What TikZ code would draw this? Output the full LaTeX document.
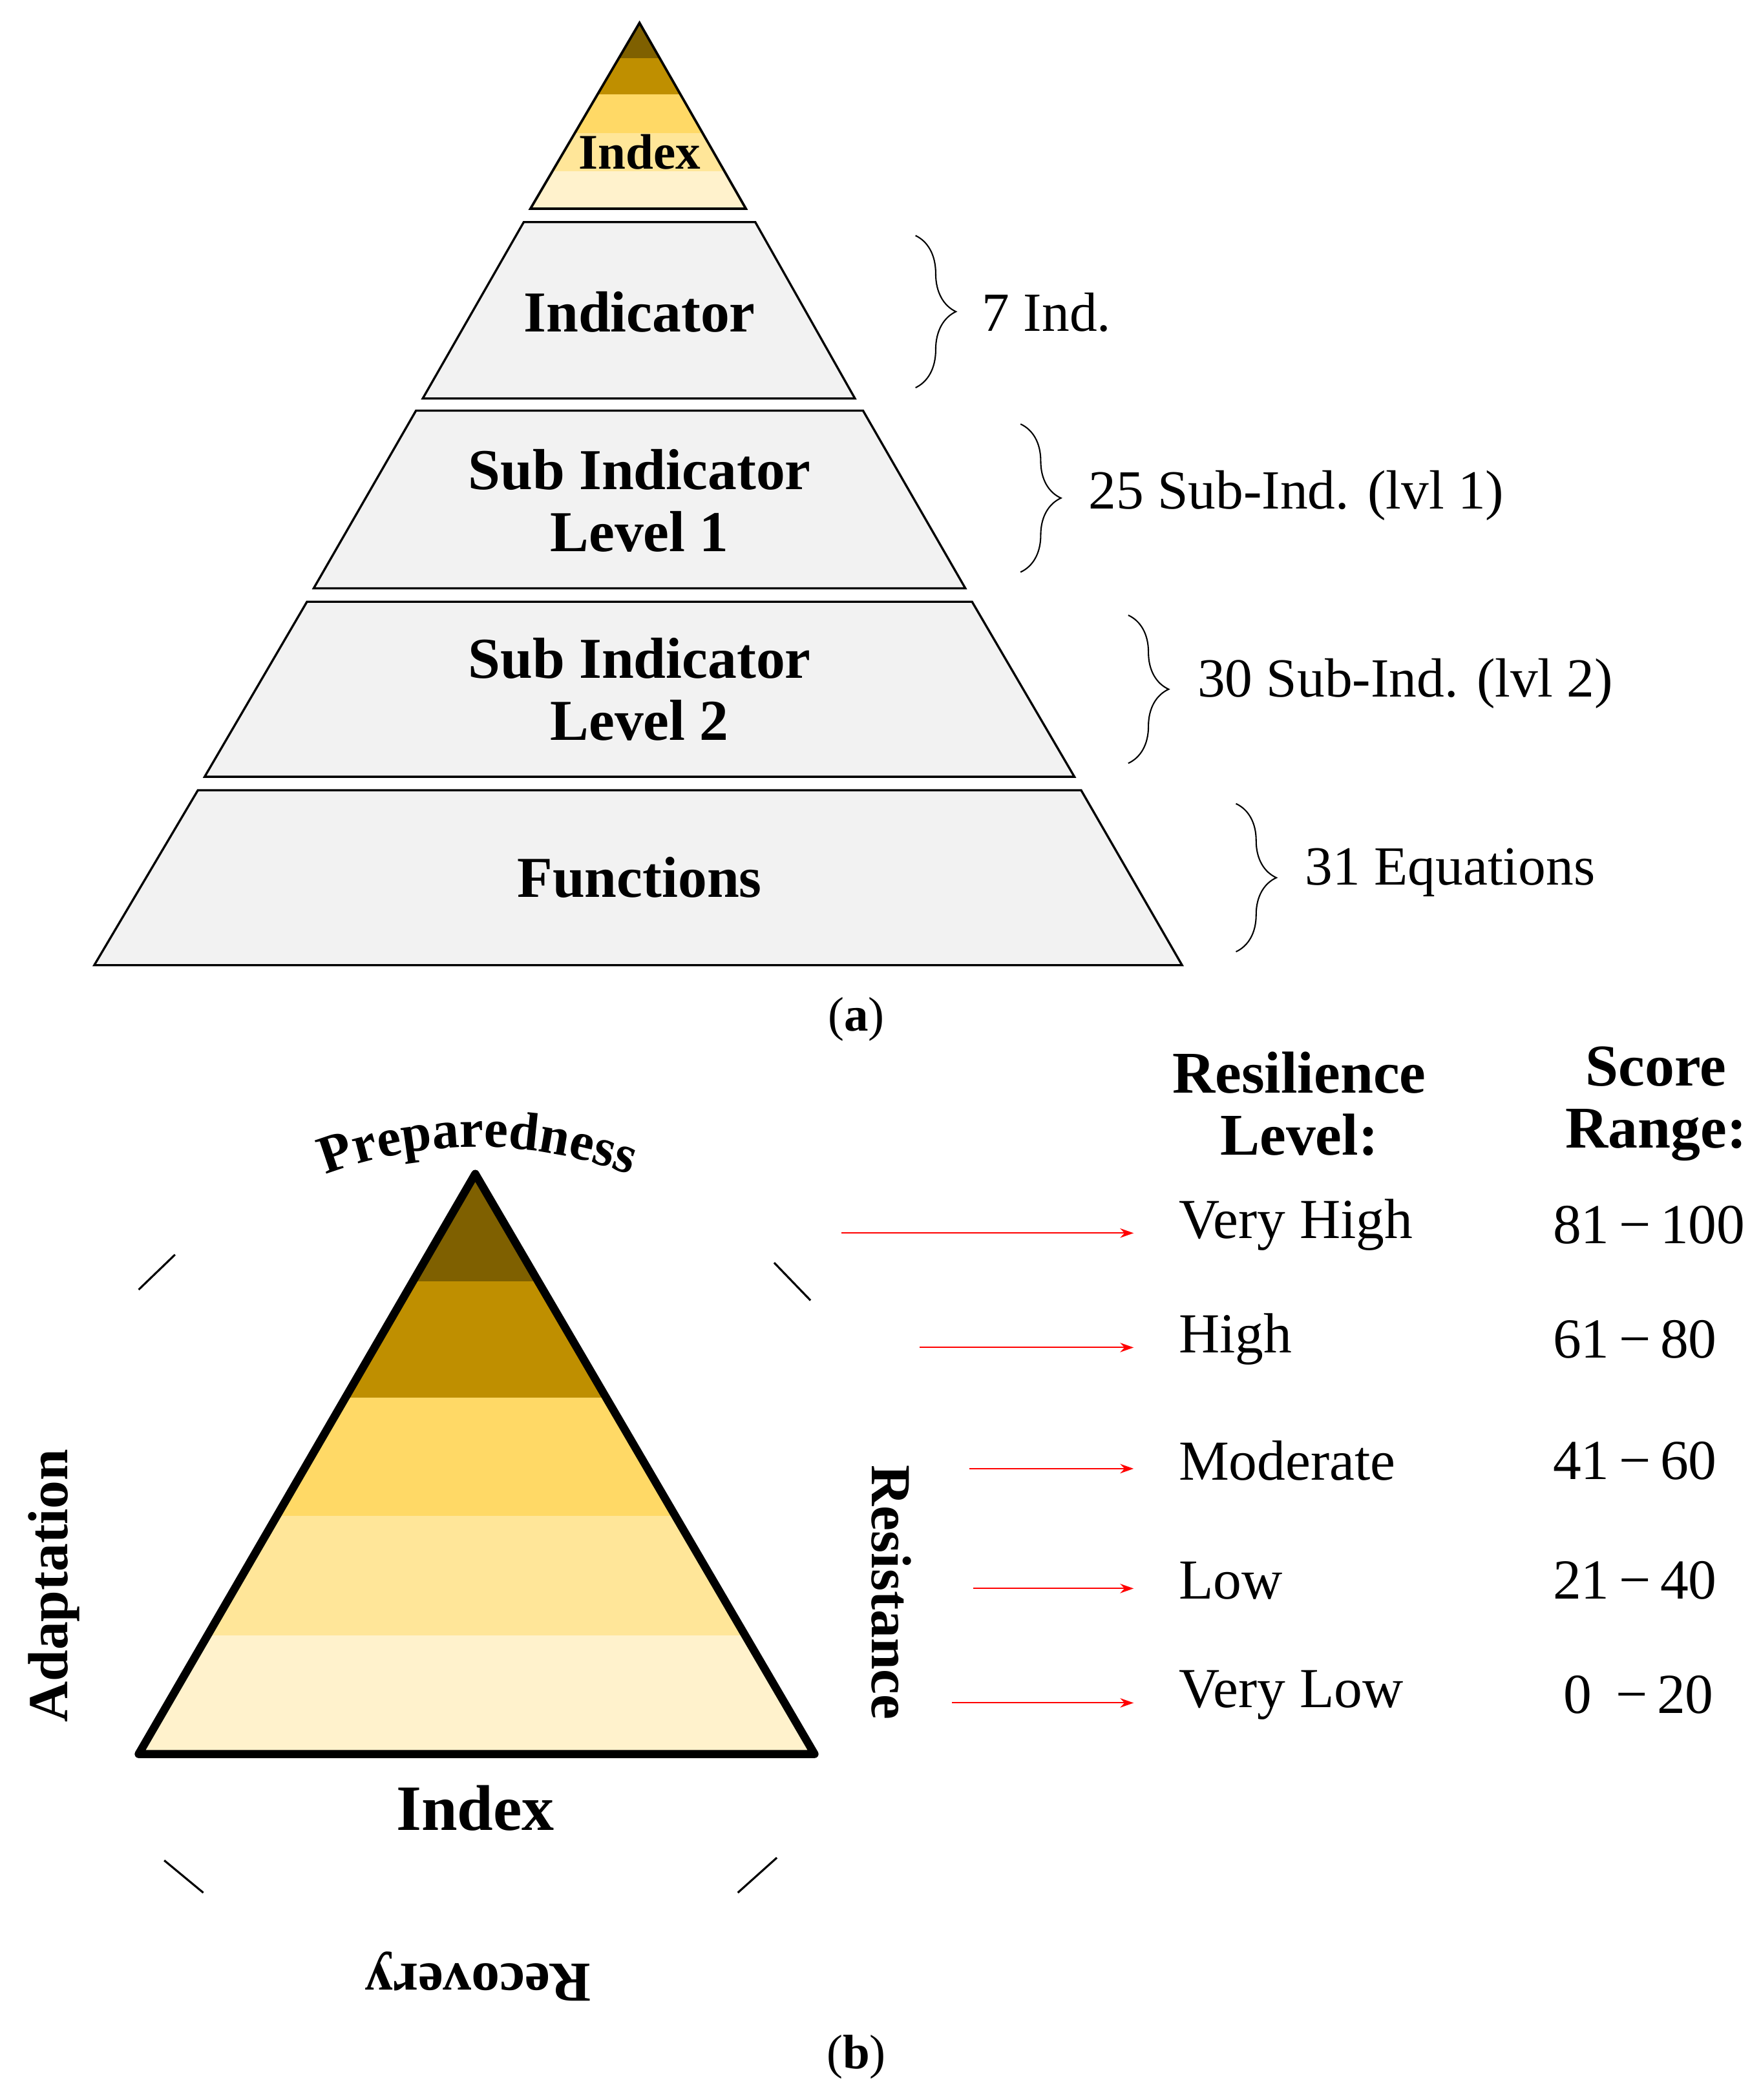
\documentclass[tikz,border=0pt]{standalone}
\usepackage{fontspec}
\setmainfont{Liberation Serif}
\usetikzlibrary{decorations.pathreplacing,decorations.text,arrows.meta}
\newcommand{\mysub}{\,\symbol{"2212}\,}
\begin{document}
\begin{tikzpicture}[x=1pt,y=-1pt,
  lvl/.style={draw=black,line width=1.6pt,fill=lvlgray,line join=miter},
  lbl/.style={font=\fontsize{43}{46}\selectfont\bfseries,align=center},
  side/.style={font=\fontsize{41}{42}\selectfont,anchor=west},
  br/.style={decorate,decoration={brace,amplitude=30pt},line width=1pt},
  rarr/.style={red,line width=1pt,-{Stealth[length=10pt,width=7pt]}},
  row/.style={font=\fontsize{42}{44}\selectfont,anchor=west},
  side2/.style={font=\fontsize{42}{44}\selectfont\bfseries},
  tick/.style={line width=1.5pt}]
\definecolor{lvlgray}{HTML}{F2F2F2}
\definecolor{c1}{HTML}{7F6000}
\definecolor{c2}{HTML}{BF8F00}
\definecolor{c3}{HTML}{FFD966}
\definecolor{c4}{HTML}{FFE699}
\definecolor{c5}{HTML}{FFF2CC}
\useasboundingbox (0,0) rectangle (1308,1560);
% ---- (a) top Index triangle
\begin{scope}
\clip (475,17) -- (554,155) -- (394,155) -- cycle;
\fill[c5] (380,0) rectangle (570,155);
\fill[c4] (380,0) rectangle (570,127);
\fill[c3] (380,0) rectangle (570,99);
\fill[c2] (380,0) rectangle (570,70);
\fill[c1] (380,0) rectangle (570,43);
\end{scope}
\draw[line width=1.8pt,line join=miter] (475,17) -- (554,155) -- (394,155) -- cycle;
\node[font=\fontsize{37}{38}\selectfont\bfseries] (idx) at (475,113) {Index};
% levels
\draw[lvl] (389,165) -- (561,165) -- (635,296) -- (314,296) -- cycle;
\draw[lvl] (309,305) -- (641,305) -- (717,437) -- (233,437) -- cycle;
\draw[lvl] (228,447) -- (722,447) -- (798,577) -- (152,577) -- cycle;
\draw[lvl] (147,587) -- (803,587) -- (878,717) -- (70,717) -- cycle;
\node[lbl] (ind) at (475,232) {Indicator};
\node[lbl] (s1) at (475,372) {Sub Indicator\\Level 1};
\node[lbl] (s2) at (475,512) {Sub Indicator\\Level 2};
\node[lbl] (fn) at (475,652) {Functions};
% braces
\coordinate (b1a) at (680,175); \coordinate (b1b) at (680,288);
\coordinate (b2a) at (758,315); \coordinate (b2b) at (758,425);
\coordinate (b3a) at (838,457); \coordinate (b3b) at (838,567);
\coordinate (b4a) at (918,597); \coordinate (b4b) at (918,707);
\draw[br] (b1a) -- (b1b);
\draw[br] (b2a) -- (b2b);
\draw[br] (b3a) -- (b3b);
\draw[br] (b4a) -- (b4b);
\node[side] (t1) at (726,232) {7 Ind.};
\node[side] (t2) at (805,368) {25 Sub-Ind. (lvl 1)};
\node[side] (t3) at (886,508) {30 Sub-Ind. (lvl 2)};
\node[side] (t4) at (966,648) {31 Equations};
\node[font=\fontsize{36}{38}\selectfont] (capa) at (636,757) {(\textbf{a})};
% ---- (b) triangle
\begin{scope}
\clip (353,872) -- (605,1303) -- (103,1303) -- cycle;
\fill[c5] (90,860) rectangle (620,1303);
\fill[c4] (90,860) rectangle (620,1215);
\fill[c3] (90,860) rectangle (620,1126);
\fill[c2] (90,860) rectangle (620,1038);
\fill[c1] (90,860) rectangle (620,952);
\end{scope}
\draw[line width=6pt,line join=round] (353,872) -- (605,1303) -- (103,1303) -- cycle;
\node[font=\fontsize{48}{50}\selectfont\bfseries] (bidx) at (353,1343) {Index};
\coordinate (cc) at (355,1170);
\path[decorate,decoration={text along path,text align=center,
  text={|\fontsize{40}{40}\selectfont\bfseries|Preparedness}}]
  (cc) ++(-118:318) arc[start angle=-118,end angle=-62,radius=318];
\node[side2,rotate=90] (adap) at (40,1178) {Adaptation};
\node[side2,rotate=-90] (res) at (662,1183) {Resistance};
\node[side2,rotate=180] (rec) at (355,1468) {Recovery};
\draw[tick] (103,958) -- (130,932);
\draw[tick] (575,938) -- (602,966);
\draw[tick] (122,1382) -- (151,1406);
\draw[tick] (548,1406) -- (577,1380);
% table
\node[font=\fontsize{44}{46}\selectfont\bfseries,align=center] (h1) at (965,820) {Resilience\\Level:};
\node[font=\fontsize{44}{46}\selectfont\bfseries,align=center] (h2) at (1230,820) {Score\\Range:};
\foreach \n/\y/\xs/\t/\s in {1/910/625/Very High/81\mysub100, 2/995/683/High/61\mysub80, 3/1085/720/Moderate/41\mysub60, 4/1174/723/Low/21\mysub40, 5/1259/707/Very Low/0\ \mysub20}{
  \coordinate (as\n) at (\xs,\y+6);
  \coordinate (ae\n) at (842,\y+6);
  \draw[rarr] (as\n) -- (ae\n);
  \node[row] (r\n) at (872,\y) {\t};
  \node[font=\fontsize{42}{44}\selectfont,anchor=west] (s\n) at ({\n==5 ? 1158 : 1150},\y) {\s};
}
\node[font=\fontsize{36}{38}\selectfont] (capb) at (636,1528) {(\textbf{b})};
\end{tikzpicture}
\end{document}
